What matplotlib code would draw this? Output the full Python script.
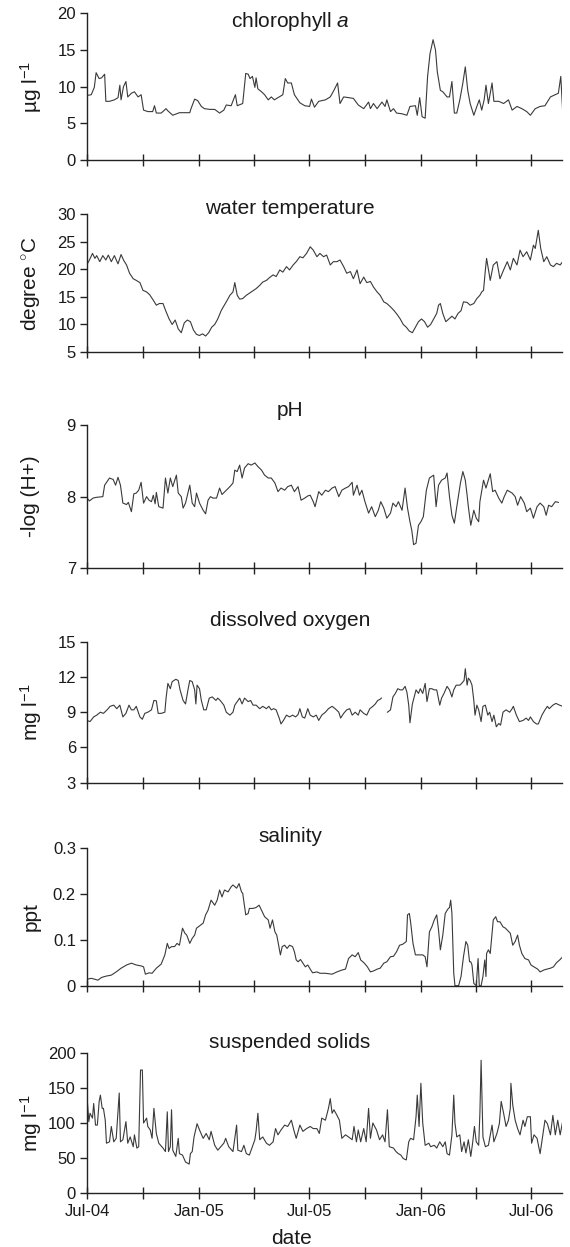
import numpy as np
import pandas as pd
import matplotlib
matplotlib.use("Agg")
from matplotlib import pyplot as plt

START = pd.Timestamp("2004-07-01")

# x values are days after 1 Jul 2004
chl_day = [0, 7, 12, 15, 20, 24, 29, 31, 37, 45, 51, 54, 56, 60, 64, 67, 73, 78, 84, 89, 93, 100, 108, 111, 114,
           122, 130, 133, 141, 152, 169, 171, 177, 182, 188, 193, 202, 210, 218, 225, 229, 237, 244, 247, 256,
           261, 265, 268, 272, 276, 278, 281, 287, 292, 298, 303, 308, 316, 322, 326, 330, 336, 341, 350, 358,
           366, 369, 374, 381, 392, 400, 406, 412, 416, 422, 430, 438, 446, 455, 463, 466, 471, 477, 485, 490,
           493, 499, 504, 509, 518, 526, 531, 540, 543, 547, 551, 556, 560, 564, 569, 573, 576, 581, 585, 592,
           596, 600, 604, 608, 613, 618, 622, 626, 630, 636, 641, 645, 649, 653, 656, 660, 666, 669, 677, 685,
           693, 699, 707, 715, 723, 729, 737, 745, 753, 762, 770, 775, 779, 782]
chl_val = [8.8, 8.9, 9.9, 11.9, 11.1, 11.2, 11.7, 8.0, 8.0, 8.2, 8.5, 10.2, 8.2, 10.0, 10.7, 8.6, 9.1, 9.3, 8.6,
           8.9, 6.8, 6.6, 6.6, 7.4, 6.4, 6.4, 7.0, 6.7, 6.1, 6.45, 6.45, 7.0, 8.3, 8.1, 7.3, 7.0, 6.9, 6.9, 6.4,
           6.8, 7.5, 7.4, 8.9, 7.4, 7.7, 11.8, 11.7, 11.1, 11.4, 9.9, 11.2, 9.7, 9.3, 8.9, 8.2, 8.6, 8.2, 8.6,
           8.9, 11.1, 10.5, 10.5, 8.9, 7.8, 7.4, 7.3, 8.3, 7.2, 8.0, 8.2, 8.6, 9.5, 10.5, 7.7, 8.6, 8.5, 8.4,
           7.5, 7.0, 7.9, 7.0, 7.7, 7.0, 7.9, 7.3, 8.2, 6.6, 7.0, 6.4, 6.3, 6.1, 7.3, 7.4, 6.1, 8.5, 5.9, 5.7,
           11.4, 14.5, 16.4, 15.0, 12.0, 9.5, 9.3, 8.6, 8.6, 10.7, 6.4, 6.4, 8.2, 10.5, 12.7, 9.5, 7.7, 6.1, 7.3,
           8.2, 6.8, 8.2, 10.2, 7.7, 10.5, 8.0, 8.0, 7.7, 8.2, 6.8, 7.3, 7.0, 6.6, 6.1, 7.0, 7.3, 7.4, 8.6, 8.9,
           9.1, 11.4, 6.8]

temp_day = [0, 4, 9, 13, 16, 21, 26, 31, 35, 40, 45, 51, 56, 60, 65, 70, 76, 81, 87, 92, 98, 103, 109, 114, 119,
            125, 129, 135, 140, 145, 150, 155, 160, 165, 170, 175, 180, 185, 190, 195, 200, 205, 210, 215, 221,
            229, 235, 240, 243, 247, 251, 256, 262, 270, 278, 284, 289, 295, 300, 306, 311, 317, 322, 328, 333,
            339, 344, 350, 355, 361, 367, 372, 378, 383, 389, 394, 400, 405, 411, 416, 422, 427, 433, 438, 444,
            449, 455, 460, 466, 471, 477, 482, 488, 493, 499, 505, 510, 515, 520, 525, 530, 535, 540, 545, 550,
            555, 560, 565, 570, 575, 578, 581, 585, 590, 595, 600, 605, 610, 615, 619, 625, 630, 636, 641, 646,
            649, 652, 655, 657, 663, 668, 674, 679, 685, 691, 696, 701, 707, 712, 717, 723, 729, 734, 737, 742,
            746, 751, 756, 762, 767, 772, 778, 782]
temp_val = [20.9, 21.7, 22.9, 22.0, 22.5, 21.4, 22.5, 21.7, 22.6, 21.4, 22.5, 21.0, 22.7, 21.7, 20.8, 19.3, 18.3,
            18.0, 17.6, 16.2, 15.9, 15.4, 14.4, 13.5, 13.8, 13.8, 12.6, 11.0, 10.0, 10.8, 9.2, 8.5, 10.3, 10.8,
            10.5, 9.0, 8.2, 8.0, 8.3, 7.9, 8.5, 9.5, 10.0, 11.0, 12.6, 14.1, 15.3, 15.9, 17.6, 15.3, 14.6, 14.7,
            15.3, 15.9, 16.5, 17.1, 17.7, 18.0, 18.5, 19.0, 18.7, 19.9, 19.5, 20.5, 19.9, 20.8, 21.4, 22.3, 22.1,
            22.9, 24.1, 23.5, 22.3, 22.9, 22.3, 22.6, 20.8, 21.4, 21.4, 21.7, 20.5, 19.3, 19.6, 18.3, 19.9, 17.4,
            18.6, 17.6, 17.8, 16.8, 15.9, 15.3, 14.1, 13.8, 13.2, 12.5, 11.8, 11.0, 10.0, 9.5, 8.8, 8.5, 9.5,
            10.5, 11.0, 10.5, 9.5, 10.0, 11.0, 12.0, 13.5, 13.8, 12.0, 10.5, 11.0, 11.5, 11.0, 12.0, 12.5, 14.1,
            14.0, 13.5, 13.8, 14.7, 15.3, 15.9, 16.2, 19.9, 22.0, 18.0, 20.8, 21.4, 18.3, 19.9, 21.4, 19.9, 22.0,
            20.8, 23.5, 22.3, 23.2, 21.7, 24.4, 23.8, 27.1, 23.8, 21.4, 22.3, 20.8, 20.5, 21.1, 20.8, 21.4]

ph_day = [0, 4, 10, 15, 26, 29, 33, 37, 43, 47, 51, 55, 59, 65, 68, 73, 77, 81, 85, 89, 93, 98, 102, 106, 109,
          112, 114, 118, 125, 129, 133, 137, 141, 147, 150, 155, 158, 162, 169, 173, 177, 180, 185, 191, 195,
          199, 203, 207, 213, 218, 222, 229, 235, 240, 243, 247, 251, 255, 259, 265, 270, 276, 281, 287, 292,
          298, 303, 309, 314, 319, 325, 330, 336, 341, 347, 352, 358, 363, 367, 372, 375, 381, 386, 392, 397,
          403, 408, 414, 419, 425, 430, 436, 438, 444, 448, 452, 457, 463, 468, 474, 479, 483, 488, 493, 499,
          503, 508, 512, 518, 523, 527, 531, 534, 537, 541, 545, 549, 553, 558, 563, 570, 574, 578, 583, 589,
          592, 596, 600, 604, 608, 614, 618, 622, 625, 627, 631, 636, 640, 644, 646, 652, 656, 663, 667, 671,
          677, 682, 686, 691, 699, 704, 708, 713, 719, 723, 729, 734, 740, 745, 751, 755, 759, 764, 770, 775]
ph_val = [7.98, 7.94, 7.98, 7.99, 8.0, 8.16, 8.21, 8.26, 8.24, 8.16, 8.27, 8.16, 7.91, 7.89, 7.92, 7.79, 8.04,
          8.05, 8.09, 8.2, 7.91, 8.0, 7.95, 7.93, 8.02, 7.9, 8.06, 7.86, 7.84, 8.26, 8.05, 8.26, 8.14, 8.3, 8.05,
          8.0, 7.84, 7.91, 8.16, 7.91, 7.86, 8.05, 7.91, 7.81, 7.76, 7.95, 8.0, 7.98, 7.98, 8.12, 8.03, 8.09,
          8.14, 8.19, 8.37, 8.35, 8.44, 8.26, 8.4, 8.46, 8.44, 8.47, 8.42, 8.37, 8.3, 8.26, 8.26, 8.19, 8.07,
          8.12, 8.09, 8.14, 8.16, 8.07, 8.14, 7.95, 7.98, 8.01, 8.02, 7.93, 7.86, 8.07, 8.02, 8.09, 8.07, 8.12,
          8.14, 8.0, 8.09, 8.12, 8.14, 8.2, 8.02, 8.16, 8.02, 8.09, 7.93, 7.77, 7.86, 7.72, 7.81, 7.93, 7.84,
          7.70, 7.77, 7.91, 7.86, 7.93, 7.81, 8.12, 7.84, 7.65, 7.53, 7.33, 7.35, 7.6, 7.65, 7.72, 8.09, 8.26,
          8.3, 7.86, 8.16, 8.23, 8.26, 8.33, 8.0, 7.74, 7.63, 7.86, 8.19, 8.35, 8.23, 8.02, 7.86, 7.6, 7.81, 7.7,
          7.65, 7.93, 8.23, 8.12, 8.32, 8.07, 8.09, 7.98, 7.91, 8.0, 8.09, 8.05, 8.0, 7.88, 8.0, 7.91, 7.79,
          7.84, 7.7, 7.86, 7.91, 7.86, 7.74, 7.88, 7.86, 7.93, 7.92]

# nan marks the short gap in the oxygen record
do_day = [0, 5, 11, 16, 22, 27, 33, 38, 44, 49, 54, 59, 64, 69, 73, 77, 81, 87, 91, 95, 100, 106, 110, 114, 117,
          122, 128, 130, 133, 137, 140, 146, 150, 153, 158, 162, 166, 169, 173, 177, 179, 181, 185, 188, 192,
          196, 201, 206, 212, 215, 219, 225, 229, 235, 240, 243, 247, 251, 255, 259, 265, 269, 273, 278, 284,
          289, 295, 299, 303, 307, 311, 316, 319, 323, 328, 333, 338, 343, 347, 350, 354, 358, 363, 367, 372,
          377, 381, 386, 392, 397, 403, 408, 414, 417, 422, 427, 432, 436, 441, 446, 449, 455, 460, 465, 470,
          474, 478, 482, 484, 489, 494, 499, 503, 507, 511, 515, 519, 523, 526, 529, 531, 535, 538, 541, 545,
          548, 552, 556, 559, 563, 567, 571, 575, 580, 583, 587, 592, 596, 600, 603, 607, 613, 616, 620, 622,
          625, 627, 630, 633, 636, 638, 641, 644, 648, 651, 655, 659, 662, 666, 669, 673, 677, 680, 684, 689,
          695, 699, 701, 706, 711, 717, 722, 726, 729, 734, 739, 742, 748, 753, 757, 760, 766, 771, 777, 782]
do_val = [8.3, 8.2, 8.6, 8.75, 9.0, 8.9, 9.2, 9.5, 9.6, 9.3, 9.6, 8.6, 8.9, 9.6, 9.2, 9.2, 9.5, 8.6, 8.4, 8.9,
          9.0, 9.2, 10.0, 9.97, 8.9, 8.9, 9.0, 10.2, 11.45, 11.0, 11.6, 11.8, 11.7, 10.9, 10.0, 9.7, 10.9, 11.7,
          11.6, 10.9, 9.7, 11.3, 11.0, 10.0, 9.2, 9.2, 10.2, 10.3, 10.0, 10.2, 10.0, 9.6, 9.0, 8.75, 9.0, 9.6,
          9.9, 10.2, 9.7, 10.2, 9.9, 10.0, 9.6, 9.6, 9.3, 9.5, 9.3, 9.5, 9.2, 9.3, 9.2, 8.5, 8.0, 8.3, 8.75,
          8.6, 8.75, 8.6, 8.8, 9.3, 8.6, 8.5, 9.3, 8.75, 8.6, 8.75, 8.3, 8.75, 9.0, 9.3, 9.5, 9.3, 9.0, 8.5,
          8.9, 9.2, 9.3, 8.75, 9.0, 8.75, 9.2, 8.9, 8.75, 9.3, 9.5, 9.7, 10.0, 10.1, 10.2, np.nan, 9.0, 9.2,
          10.3, 10.6, 11.0, 10.9, 10.9, 11.2, 10.7, 9.6, 8.1, 9.7, 10.3, 10.9, 10.6, 11.0, 10.6, 11.45, 9.9,
          11.0, 11.0, 10.9, 10.9, 9.6, 10.2, 10.6, 11.2, 10.9, 10.3, 10.9, 11.3, 11.3, 11.45, 11.7, 12.7, 11.3,
          11.9, 11.7, 11.3, 10.0, 8.75, 9.6, 9.2, 8.2, 9.5, 9.6, 8.75, 9.0, 8.2, 8.75, 7.76, 8.04, 7.9, 9.0,
          9.2, 9.0, 9.3, 9.5, 8.75, 8.2, 8.3, 8.5, 8.3, 8.6, 8.2, 8.0, 8.0, 8.75, 9.2, 9.5, 9.3, 9.6, 9.75,
          9.6, 9.5]

sal_day = [0, 7, 13, 18, 24, 32, 40, 48, 56, 65, 73, 81, 89, 93, 96, 102, 107, 114, 122, 128, 132, 135, 139, 144,
           148, 152, 157, 161, 164, 169, 173, 177, 180, 185, 191, 195, 199, 204, 210, 214, 218, 222, 226, 232,
           237, 240, 246, 250, 254, 256, 261, 265, 267, 273, 278, 283, 287, 292, 298, 301, 305, 309, 312, 316,
           318, 321, 325, 329, 333, 338, 341, 344, 347, 351, 355, 359, 363, 367, 371, 378, 383, 392, 403, 411,
           419, 425, 430, 436, 441, 446, 450, 456, 461, 466, 471, 477, 482, 488, 493, 499, 504, 509, 514, 519,
           525, 527, 530, 532, 536, 540, 545, 552, 556, 559, 563, 567, 571, 575, 578, 581, 585, 589, 593, 596,
           598, 600, 603, 605, 611, 615, 619, 623, 626, 629, 631, 633, 636, 640, 643, 645, 648, 651, 654, 656,
           657, 660, 663, 666, 668, 672, 675, 679, 684, 688, 691, 696, 700, 704, 708, 711, 715, 720, 726, 730,
           735, 741, 745, 751, 756, 762, 767, 772, 778, 782]
sal_val = [0.014, 0.016, 0.014, 0.012, 0.018, 0.021, 0.023, 0.030, 0.038, 0.045, 0.049, 0.045, 0.043, 0.041,
           0.025, 0.028, 0.027, 0.038, 0.047, 0.067, 0.092, 0.081, 0.085, 0.085, 0.092, 0.088, 0.125, 0.114,
           0.110, 0.092, 0.103, 0.110, 0.125, 0.130, 0.136, 0.154, 0.164, 0.186, 0.175, 0.186, 0.208, 0.193,
           0.208, 0.204, 0.215, 0.219, 0.212, 0.222, 0.204, 0.201, 0.154, 0.157, 0.168, 0.168, 0.170, 0.175,
           0.164, 0.150, 0.143, 0.125, 0.143, 0.117, 0.110, 0.081, 0.067, 0.085, 0.088, 0.081, 0.088, 0.085,
           0.074, 0.056, 0.052, 0.057, 0.049, 0.041, 0.045, 0.036, 0.028, 0.030, 0.027, 0.027, 0.025, 0.030,
           0.034, 0.036, 0.059, 0.067, 0.063, 0.072, 0.056, 0.049, 0.041, 0.030, 0.032, 0.036, 0.038, 0.049,
           0.052, 0.063, 0.064, 0.074, 0.088, 0.090, 0.096, 0.154, 0.157, 0.139, 0.092, 0.067, 0.067, 0.067,
           0.063, 0.041, 0.117, 0.128, 0.143, 0.154, 0.121, 0.078, 0.110, 0.157, 0.166, 0.170, 0.186, 0.157,
           0.027, 0.0, 0.0, 0.020, 0.063, 0.096, 0.088, 0.052, 0.052, 0.045, 0.005, 0.0, 0.059, 0.0, 0.0, 0.020,
           0.056, 0.020, 0.070, 0.078, 0.070, 0.114, 0.143, 0.150, 0.139, 0.139, 0.128, 0.125, 0.121, 0.114,
           0.088, 0.096, 0.110, 0.088, 0.070, 0.059, 0.056, 0.045, 0.041, 0.036, 0.030, 0.034, 0.036, 0.038,
           0.041, 0.050, 0.057, 0.063]

ss_day = [0, 3, 5, 9, 11, 14, 17, 20, 22, 25, 27, 30, 32, 37, 40, 44, 48, 53, 55, 59, 64, 67, 71, 76, 78, 82, 85,
          88, 91, 93, 98, 100, 104, 107, 110, 114, 118, 125, 129, 132, 134, 137, 139, 141, 146, 150, 152, 157,
          162, 168, 170, 173, 176, 181, 185, 191, 196, 201, 204, 210, 215, 225, 228, 233, 240, 246, 248, 254,
          258, 262, 267, 272, 276, 278, 281, 284, 289, 295, 300, 306, 310, 314, 319, 325, 330, 336, 340, 344,
          350, 355, 361, 367, 372, 378, 382, 386, 392, 397, 400, 403, 406, 411, 415, 419, 425, 430, 436, 439,
          443, 446, 450, 455, 459, 463, 466, 470, 476, 481, 486, 490, 494, 497, 504, 508, 512, 516, 520, 525,
          529, 532, 537, 541, 543, 546, 549, 552, 556, 562, 565, 571, 575, 580, 585, 589, 592, 596, 600, 603,
          605, 608, 613, 616, 620, 623, 627, 631, 634, 637, 640, 644, 646, 648, 651, 655, 660, 666, 669, 674,
          678, 681, 685, 689, 693, 696, 697, 700, 704, 708, 712, 717, 720, 724, 729, 731, 735, 740, 745, 749,
          753, 757, 762, 766, 770, 774, 778, 782]
ss_val = [138, 102, 114, 107, 128, 97, 97, 131, 140, 121, 121, 104, 71, 73, 95, 73, 78, 143, 73, 76, 102, 71, 80,
          66, 83, 64, 66, 176, 176, 100, 107, 95, 90, 78, 121, 85, 71, 64, 59, 116, 59, 66, 119, 61, 52, 78, 56,
          54, 44, 41, 56, 59, 80, 99, 90, 78, 85, 76, 88, 68, 61, 71, 78, 66, 59, 97, 61, 59, 68, 56, 54, 66,
          76, 88, 114, 76, 80, 71, 68, 73, 92, 83, 90, 97, 95, 104, 90, 78, 97, 88, 92, 95, 92, 92, 85, 107,
          104, 121, 135, 114, 119, 111, 104, 78, 83, 80, 76, 95, 73, 90, 73, 92, 73, 121, 78, 100, 90, 76, 83,
          73, 119, 66, 64, 59, 56, 54, 49, 47, 73, 78, 76, 109, 140, 95, 157, 100, 68, 71, 66, 68, 64, 73, 66,
          73, 56, 54, 83, 140, 100, 80, 83, 59, 73, 57, 76, 52, 71, 95, 73, 68, 114, 190, 80, 66, 68, 97, 73,
          85, 99, 131, 114, 95, 104, 121, 157, 126, 104, 92, 83, 104, 95, 109, 109, 71, 83, 78, 56, 80, 104, 99,
          83, 111, 83, 104, 83, 102]

titles = ["chlorophyll $\\it{a}$", "water temperature", "pH", "dissolved oxygen", "salinity", "suspended solids"]
ylabels = ["\u00b5g l$^{-1}$", "degree $^{\\circ}$C", "-log (H+)", "mg l$^{-1}$", "ppt", "mg l$^{-1}$"]
yticks = [[0, 5, 10, 15, 20], [5, 10, 15, 20, 25, 30], [7, 8, 9], [3, 6, 9, 12, 15],
          [0, 0.1, 0.2, 0.3], [0, 50, 100, 150, 200]]
yticklabels = [["0", "5", "10", "15", "20"], ["5", "10", "15", "20", "25", "30"], ["7", "8", "9"],
               ["3", "6", "9", "12", "15"], ["0", "0.1", "0.2", "0.3"], ["0", "50", "100", "150", "200"]]
series = [(chl_day, chl_val), (temp_day, temp_val), (ph_day, ph_val),
          (do_day, do_val), (sal_day, sal_val), (ss_day, ss_val)]

plt.rcParams['font.family'] = ['Liberation Sans', 'DejaVu Sans']
plt.rcParams['mathtext.fontset'] = 'custom'
plt.rcParams['mathtext.rm'] = 'Liberation Sans'
plt.rcParams['mathtext.it'] = 'Liberation Sans:italic'

W, H = 570, 1247
# panel top / bottom in pixels, title centre in pixels
panel_px = [(13.3, 160), (214.3, 352), (425, 568.3), (641.7, 782.7), (847.7, 985.7), (1053.3, 1192.7)]
title_px = [21.7, 208, 410, 620, 837, 1042]
txt = '#1a1a1a'

fig = plt.figure(figsize=(W / 100, H / 100), dpi=100)
ticks = pd.date_range("2004-07-01", "2006-07-01", freq="3MS")
xlim = (START, START + pd.Timedelta(days=781))

for i in range(6):
    top, bot = panel_px[i]
    ax = fig.add_axes([87 / W, 1 - bot / H, 475 / W, (bot - top) / H])
    days, vals = series[i]
    dates = START + pd.to_timedelta(days, unit="D")
    ax.plot(dates, vals, color='#3a3a3a', lw=0.8)
    ax.set_xlim(xlim)
    ax.set_ylim(yticks[i][0], yticks[i][-1])
    ax.set_yticks(yticks[i])
    ax.set_yticklabels(yticklabels[i])
    ax.set_xticks(ticks)
    if i == 5:
        ax.set_xticklabels([d.strftime("%b-%y") if d.month in (1, 7) else "" for d in ticks])
    else:
        ax.set_xticklabels([])
    for s in ['top', 'right']:
        ax.spines[s].set_visible(False)
    for s in ['left', 'bottom']:
        ax.spines[s].set_color('#222222')
        ax.spines[s].set_linewidth(1.0)
    ax.tick_params(axis='y', direction='out', length=5, width=1, color='#222222',
                   labelsize=12, labelcolor=txt, pad=3)
    ax.tick_params(axis='x', direction='inout', length=8, width=1, color='#222222',
                   labelsize=12, labelcolor=txt, pad=4)
    ax.patch.set_alpha(0)
    fig.text(290 / W, 1 - title_px[i] / H, titles[i], ha='center', va='center', fontsize=15, color=txt)
    fig.text(31 / W, 1 - (top + bot) / 2 / H, ylabels[i], ha='center', va='center', rotation=90,
             fontsize=15, color=txt)

fig.text(292 / W, 1 - 1238 / H, "date", ha='center', va='center', fontsize=15, color=txt)

fig.savefig("out.png", dpi=100)
